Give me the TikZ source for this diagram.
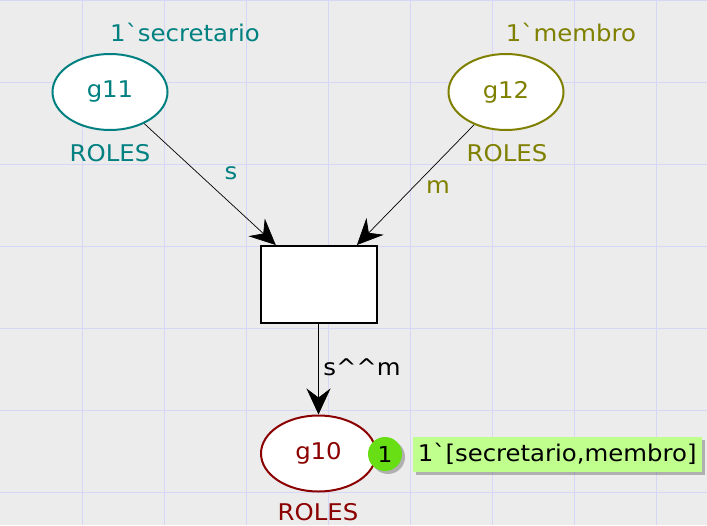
\documentclass[tikz,border=0pt]{standalone}
\usepackage{fontspec}
\newfontfamily\mainf{DejaVu Sans}[FakeStretch=1.06]
\usetikzlibrary{arrows.meta,shapes.geometric}
\definecolor{bgc}{RGB}{236,236,236}
\definecolor{gridc}{RGB}{214,214,246}
\definecolor{cteal}{RGB}{0,128,128}
\definecolor{colive}{RGB}{128,128,0}
\definecolor{cdred}{RGB}{139,0,0}
\definecolor{tokc}{RGB}{104,222,20}
\definecolor{markc}{RGB}{192,255,142}
\tikzset{
  place/.style={ellipse, draw, line width=2pt, fill=white, minimum width=115pt, minimum height=76pt, inner sep=0pt, font=\mainf\fontsize{23}{27}\selectfont},
  trans/.style={rectangle, draw=black, line width=2pt, fill=white, minimum width=116pt, minimum height=77pt, inner sep=0pt},
  lbl/.style={inner sep=0pt, font=\mainf\fontsize{23}{27}\selectfont},
  arc/.style={draw=black, line width=0.7pt, -{Stealth[length=26pt,width=24pt,inset=9pt]}},
}
\begin{document}
\begin{tikzpicture}[x=1pt,y=-1pt]
\useasboundingbox (0,0) rectangle (707,525);
\fill[bgc] (0,0) rectangle (707,525);
\foreach \k in {1,...,8} \draw[gridc, line width=1pt] (82*\k,0) -- (82*\k,525);
\foreach \k in {0,...,6} \draw[gridc, line width=1pt] (0,82*\k) -- (707,82*\k);

\node[place, draw=cteal, text=cteal] (g11) at (110,92) {g11};
\node[place, draw=colive, text=colive] (g12) at (506,92) {g12};
\node[trans] (t) at (318.5,284.5) {};
\node[place, draw=cdred, text=cdred] (g10) at (318.5,453.5) {g10};

\node[lbl, text=cteal] (i11) at (185,32) {1\symbol{96}secretario};
\node[lbl, text=cteal] (r11) at (110,153) {ROLES};
\node[lbl, text=colive] (i12) at (571,32) {1\symbol{96}membro};
\node[lbl, text=colive] (r12) at (507,153) {ROLES};
\node[lbl, text=cdred] (r10) at (318,512) {ROLES};

\draw[arc] (g11) -- (t);
\draw[arc] (g12) -- (t);
\draw[arc] (t) -- (g10);

\node[lbl, text=cteal] (as) at (231,173) {s};
\node[lbl, text=colive] (am) at (438,187) {m};
\node[lbl, text=black] (asm) at (362,367) {s\symbol{94}\symbol{94}m};

\fill[black, opacity=0.25] (388,457) circle (17pt);
\node[circle, fill=tokc, minimum size=34pt, inner sep=0pt, font=\mainf\fontsize{22}{26}\selectfont] (tok) at (385,454) {1};
\fill[black, opacity=0.25] (416,440) rectangle (705,475);
\node[rectangle, fill=markc, minimum width=289pt, minimum height=35pt, inner sep=0pt, font=\mainf\fontsize{23}{27}\selectfont] (mark) at (557.2,454.2) {1\symbol{96}[secretario,membro]};
\end{tikzpicture}
\end{document}
